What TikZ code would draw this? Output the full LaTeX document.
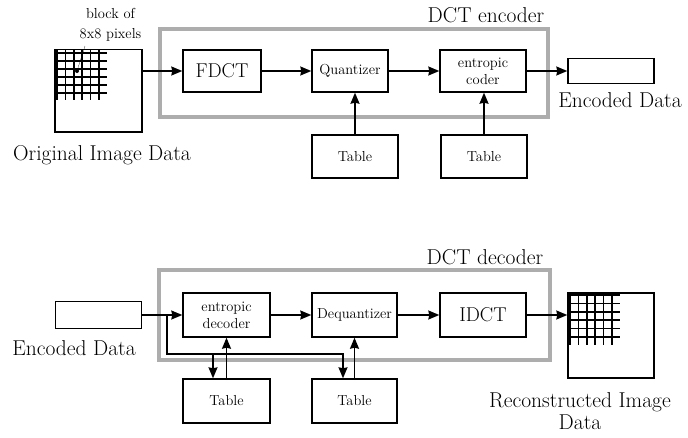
\documentclass[tikz,border=0pt]{standalone}
\usetikzlibrary{arrows.meta}

\newcommand{\lblfont}{\fontsize{21.5}{24}\selectfont}
\newcommand{\boxfont}{\fontsize{14.5}{17}\selectfont}
\newcommand{\dctfont}{\fontsize{20}{22}\selectfont}
\colorlet{framegray}{black!32}

\tikzset{
    blk/.style={draw, line width=1.4pt, minimum width=86pt, minimum height=43pt,
        inner sep=1pt, font=\boxfont, align=center},
    frame/.style={draw=framegray, line width=4pt},
    lbl/.style={font=\lblfont, align=center},
    gridline/.style={line width=1.7pt},
    conn/.style={line width=1.4pt}
}

\begin{document}
\begin{tikzpicture}[x=1pt, y=-1pt, >={Stealth[length=11pt, width=9pt, inset=1pt]}]
    \useasboundingbox (0,0) rectangle (688,437);

    % Encoder
    \begin{scope}
        \draw[frame] (160,28.5) rectangle (548,117);
        \node[lbl] (enctitle) at (486,15) {DCT encoder};

        \node[blk, minimum width=87pt, minimum height=82.5pt] (img) at (98.5,90.75) {};
        \foreach \i in {0,...,5} {
            \draw[gridline] ({57+8.4*\i},49.5) -- ({57+8.4*\i},100);
            \draw[gridline] (55,{53+8*\i}) -- (107,{53+8*\i});
        }
        \fill (77,71) circle (2pt);
        \node[font=\boxfont, align=center, inner sep=0pt] (blocktxt) at (110.5,25) {block of\\[3pt]8x8 pixels};
        \draw[very thin] (77,71) -- (85,46);
        \node[lbl] (origtxt) at (102,155) {Original Image Data};

        \node[blk, minimum width=78pt, minimum height=42pt, font=\dctfont] (fdct) at (222,71) {FDCT};
        \node[blk, minimum width=76pt, minimum height=42pt] (quant) at (350,71) {Quantizer};
        \node[blk, minimum height=42pt] (coder) at (483,71) {entropic\\coder};
        \node[blk, minimum height=25pt] (encout) at (611,71) {};
        \node[lbl] (encouttxt) at (620,100) {Encoded Data};

        \node[blk] (qtab) at (355,156.5) {Table};
        \node[blk] (ctab) at (484,156.5) {Table};

        \draw[conn,->] (fdct.west -| img.east) -- (fdct.west);
        \draw[conn,->] (fdct) -- (quant);
        \draw[conn,->] (quant) -- (coder);
        \draw[conn,->] (coder) -- (encout);
        \draw[conn,->] (qtab.north) -- (qtab.north |- quant.south);
        \draw[conn,->] (ctab.north) -- (ctab.north |- coder.south);
    \end{scope}

    % Decoder
    \begin{scope}
        \draw[frame] (159,270) rectangle (550,360);
        \node[lbl] (dectitle) at (485,257) {DCT decoder};

        \node[blk, minimum height=27pt] (decin) at (98.5,315) {};
        \node[lbl] (decintxt) at (74,348) {Encoded Data};

        \node[blk, minimum width=87pt, minimum height=44pt] (edec) at (226.5,315) {entropic\\decoder};
        \node[blk, minimum width=85pt, minimum height=44pt] (dequant) at (354.5,315) {Dequantizer};
        \node[blk, minimum height=44pt, font=\dctfont] (idct) at (483,315) {IDCT};

        \node[blk, minimum height=85pt] (recon) at (611,335.5) {};
        \foreach \i in {0,...,5} {
            \draw[gridline] ({570+8.4*\i},293) -- ({570+8.4*\i},345);
            \draw[gridline] (568,{295+8.4*\i}) -- (620,{295+8.4*\i});
        }
        \node[lbl, inner sep=0pt] (recontxt) at (580,411) {Reconstructed Image\\[-2pt]Data};

        \node[blk, minimum width=87pt, minimum height=44pt] (etab) at (226.5,401) {Table};
        \node[blk, minimum width=85pt, minimum height=44pt] (dtab) at (354.5,401) {Table};

        \coordinate (split) at (167,315);
        \coordinate (branch) at (213,354);
        \coordinate (turn) at (343,354);

        \draw[conn,->] (decin) -- (edec);
        \draw[conn,->] (split) |- (turn) -- (turn |- dtab.north);
        \draw[conn,->] (branch) -- (branch |- etab.north);
        \draw[conn,->] (etab.north) -- (edec.south);
        \draw[conn,->] (dtab.north) -- (dequant.south);
        \draw[conn,->] (edec) -- (dequant);
        \draw[conn,->] (dequant) -- (idct);
        \draw[conn,->] (idct.east) -- (idct.east -| recon.west);
    \end{scope}
\end{tikzpicture}
\end{document}
